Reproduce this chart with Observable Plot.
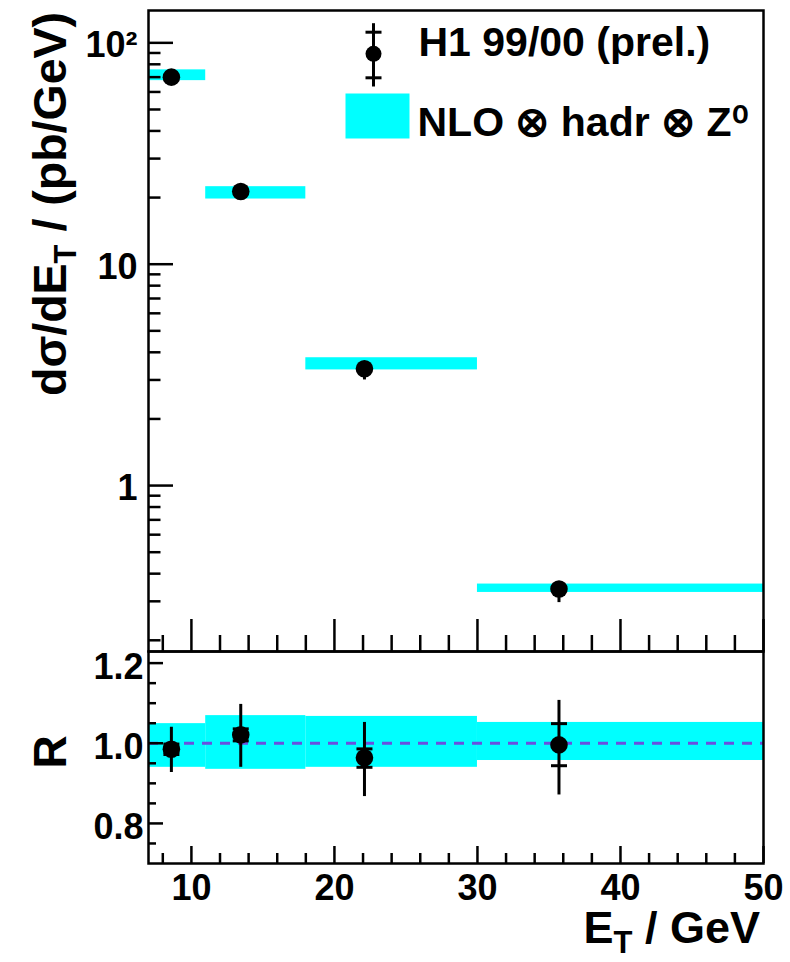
<!DOCTYPE html>
<html><head><meta charset="utf-8">
<script src="https://cdn.jsdelivr.net/npm/d3@7"></script>
<script src="https://cdn.jsdelivr.net/npm/@observablehq/plot@0.6"></script>
<style>
body{margin:0;background:#fff;}
#wrap{position:relative;width:790px;height:962px;overflow:hidden;}
#wrap > svg{position:absolute;left:0;}
</style></head><body><div id="wrap"></div>
<script>
// ---- data ----
const binLo = [7, 11, 18, 30];
const binHi = [11, 18, 30, 50];
const etCenter = [8.6, 13.45, 22.1, 35.7];
const xsec = [70, 21.3, 3.37, 0.341];
const xsecTotLo = [65.5, 19.9, 3.0, 0.296];
const xsecTotHi = [75, 22.8, 3.6, 0.368];
const nloLo = [67.5, 19.7, 3.33, 0.329];
const nloHi = [75.5, 22.4, 3.78, 0.359];
const ratio = [0.985, 1.021, 0.964, 0.996];
const ratioStatLo = [0.972, 1.006, 0.940, 0.944];
const ratioStatHi = [0.998, 1.036, 0.986, 1.049];
const ratioTotLo = [0.927, 0.940, 0.867, 0.871];
const ratioTotHi = [1.040, 1.097, 1.052, 1.107];
const ratioBandLo = [0.940, 0.935, 0.940, 0.957];
const ratioBandHi = [1.049, 1.069, 1.067, 1.052];
const xMajor = [10, 20, 30, 40, 50];
const xMinor = [8, 12, 14, 16, 18, 22, 24, 26, 28, 32, 34, 36, 38, 42, 44, 46, 48];
const yMajorTop = [1, 10, 100];
const yMinorTop = [0.2, 0.3, 0.4, 0.5, 0.6, 0.7, 0.8, 0.9, 2, 3, 4, 5, 6, 7, 8, 9, 20, 30, 40, 50, 60, 70, 80, 90];
const yMajorR = [0.8, 1.0, 1.2];
const yMinorR = [0.75, 0.85, 0.9, 0.95, 1.05, 1.1, 1.15];
const legendData = "H1 99/00 (prel.)";
const legendNLO = "NLO \u2297 hadr \u2297 Z\u2070";

const rows = binLo.map((lo, i) => ({
  lo, hi: binHi[i], x: etCenter[i],
  xsec: xsec[i], totLo: xsecTotLo[i], totHi: xsecTotHi[i],
  nloLo: nloLo[i], nloHi: nloHi[i],
  r: ratio[i], rStatLo: ratioStatLo[i], rStatHi: ratioStatHi[i],
  rTotLo: ratioTotLo[i], rTotHi: ratioTotHi[i],
  rBandLo: ratioBandLo[i], rBandHi: ratioBandHi[i]
}));

const hline = {draw(ctx, size) { const r = Math.sqrt(size / Math.PI); ctx.moveTo(-r, 0); ctx.lineTo(r, 0); }};
const vline = {draw(ctx, size) { const r = Math.sqrt(size / Math.PI); ctx.moveTo(0, -r); ctx.lineTo(0, r); }};
const box = {draw(ctx) { ctx.rect(-32, -22.5, 64, 45); }};

const FONT = '"Liberation Sans", Arial, Helvetica, sans-serif';
const W = 790, ML = 148, MR = 27;
const IW = W - ML - MR;
const style = {fontFamily: FONT, fontWeight: "bold", fontSize: "35px", color: "black", background: "transparent", overflow: "visible"};
const tk = {stroke: "black", strokeWidth: 2.5};

// ---- top panel ----
const TH = 652, TMT = 10, TMB = 1, TIH = TH - TMT - TMB;
const topPlot = Plot.plot({
  width: W, height: TH, marginLeft: ML, marginRight: MR, marginTop: TMT, marginBottom: TMB,
  style,
  x: {domain: [7, 50], axis: null},
  y: {type: "log", domain: [0.178, 140], axis: null},
  marks: [
    Plot.rect(rows, {x1: "lo", x2: "hi", y1: "nloLo", y2: "nloHi", fill: "#00ffff"}),
    Plot.ruleX(rows, {x: "x", y1: "totLo", y2: "totHi", stroke: "black", strokeWidth: 3}),
    Plot.dot(rows, {x: "x", y: "xsec", r: 8.8, fill: "black", stroke: "none"}),
    Plot.tickY(yMajorTop, {y: d => d, insetRight: IW - 25, ...tk}),
    Plot.tickY(yMinorTop, {y: d => d, insetRight: IW - 12.5, ...tk}),
    Plot.tickX(xMajor, {x: d => d, insetTop: TIH - 32, ...tk}),
    Plot.tickX(xMinor, {x: d => d, insetTop: TIH - 16, ...tk}),
    Plot.axisY(yMajorTop, {tickSize: 0, tickPadding: 11, dy: 3, fontSize: 36, fontWeight: "bold",
      tickFormat: d => d === 100 ? "10\u00b2" : String(d)}),
    Plot.frame({stroke: "black", strokeWidth: 2.5}),
    // legend symbols
    Plot.dot([0], {frameAnchor: "top-left", dx: 225, dy: 44.35, r: 31.65, symbol: vline, stroke: "black", strokeWidth: 3, fill: "none"}),
    Plot.dot([0], {frameAnchor: "top-left", dx: 225, dy: 21.7, r: 8, symbol: hline, stroke: "black", strokeWidth: 3, fill: "none"}),
    Plot.dot([0], {frameAnchor: "top-left", dx: 225, dy: 67.3, r: 8, symbol: hline, stroke: "black", strokeWidth: 3, fill: "none"}),
    Plot.dot([0], {frameAnchor: "top-left", dx: 225, dy: 43.3, r: 8, fill: "black", stroke: "none"}),
    Plot.dot([0], {frameAnchor: "top-left", dx: 229, dy: 105.5, r: 10, symbol: box, fill: "#00ffff", stroke: "none"}),
    Plot.text([legendData], {frameAnchor: "top-left", dx: 270, dy: 32, text: d => d, textAnchor: "start", lineAnchor: "middle", fontSize: 41, fontWeight: "bold"}),
    Plot.text([legendNLO], {frameAnchor: "top-left", dx: 269, dy: 112, text: d => d, textAnchor: "start", lineAnchor: "middle", fontSize: 41, fontWeight: "bold"})
  ]
});
topPlot.style.top = "0px";

// ---- ratio panel ----
const BH = 311, BMT = 0, BMB = 99, BIH = BH - BMT - BMB;
const botPlot = Plot.plot({
  width: W, height: BH, marginLeft: ML, marginRight: MR, marginTop: BMT, marginBottom: BMB,
  style,
  x: {domain: [7, 50]},
  y: {domain: [0.7, 1.229], axis: null},
  marks: [
    Plot.rect(rows, {x1: "lo", x2: "hi", y1: "rBandLo", y2: "rBandHi", fill: "#00ffff"}),
    Plot.ruleY([1], {stroke: "#6a4fe0", strokeWidth: 3, strokeDasharray: "10,8"}),
    Plot.ruleX(rows, {x: "x", y1: "rTotLo", y2: "rTotHi", stroke: "black", strokeWidth: 3}),
    Plot.dot(rows, {x: "x", y: "rStatLo", r: 8, symbol: hline, stroke: "black", strokeWidth: 3, fill: "none"}),
    Plot.dot(rows, {x: "x", y: "rStatHi", r: 8, symbol: hline, stroke: "black", strokeWidth: 3, fill: "none"}),
    Plot.dot(rows, {x: "x", y: "r", r: 8.8, fill: "black", stroke: "none"}),
    Plot.tickY(yMajorR, {y: d => d, insetRight: IW - 15, ...tk}),
    Plot.tickY(yMinorR, {y: d => d, insetRight: IW - 8, ...tk}),
    Plot.tickX(xMajor, {x: d => d, insetTop: BIH - 17, ...tk}),
    Plot.tickX(xMinor, {x: d => d, insetTop: BIH - 10, ...tk}),
    Plot.axisX(xMajor, {tickSize: 0, tickPadding: 11, fontSize: 36, fontWeight: "bold", label: null}),
    Plot.axisY(yMajorR, {tickSize: 0, tickPadding: 5, dy: 4, fontSize: 36, fontWeight: "bold", tickFormat: d3.format(".1f"), label: null}),
    Plot.frame({stroke: "black", strokeWidth: 2.5})
  ]
});
botPlot.style.top = "651px";

const wrap = document.getElementById("wrap");
wrap.appendChild(topPlot);
wrap.appendChild(botPlot);

// ---- axis titles (real text) ----
const ov = d3.create("svg").attr("width", W).attr("height", 962)
  .style("top", "0px").style("pointer-events", "none")
  .attr("font-family", FONT).attr("font-weight", "bold");
const yt = ov.append("text").attr("transform", "translate(66,12) rotate(-90)").attr("text-anchor", "end").attr("font-size", 46.5);
yt.append("tspan").text("d\u03c3/dE");
yt.append("tspan").attr("dy", 10).attr("font-size", 31).text("T");
yt.append("tspan").attr("dy", -10).text(" / (pb/GeV)");
ov.append("text").attr("transform", "translate(66,752) rotate(-90)").attr("text-anchor", "middle").attr("font-size", 46).text("R");
const xt = ov.append("text").attr("x", 760).attr("y", 943).attr("text-anchor", "end").attr("font-size", 45);
xt.append("tspan").text("E");
xt.append("tspan").attr("dy", 10).attr("font-size", 31).text("T");
xt.append("tspan").attr("dy", -10).text(" / GeV");
wrap.appendChild(ov.node());
</script>
</body></html>
